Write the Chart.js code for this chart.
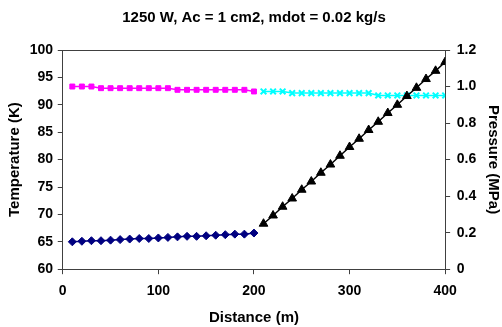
<!DOCTYPE html>
<html>
<head>
<meta charset="utf-8">
<script src="https://cdn.jsdelivr.net/npm/chart.js@4"></script>
<style>
  html, body { margin: 0; padding: 0; background: #fff; }
  #wrap { width: 502px; height: 327px; }
</style>
</head>
<body>
<div id="wrap"><canvas id="myChart" width="502" height="327"></canvas></div>
<script>
// chart data
let chartTitle = '1250 W, Ac = 1 cm2, mdot = 0.02 kg/s';
let distFirst  = [10, 20, 30, 40, 50, 60, 70, 80, 90, 100, 110, 120, 130, 140, 150, 160, 170, 180, 190, 200];
let distSecond = [210, 220, 230, 240, 250, 260, 270, 280, 290, 300, 310, 320, 330, 340, 350, 360, 370, 380, 390, 400];

// temperature (K), left axis
let tempFirst  = [65.0, 65.1, 65.2, 65.2, 65.3, 65.4, 65.5, 65.6, 65.6, 65.7, 65.8, 65.9, 66.0, 66.0, 66.1, 66.2, 66.3, 66.4, 66.4, 66.6];
let tempSecond = [68.3, 69.8, 71.4, 72.9, 74.5, 76.0, 77.6, 79.1, 80.7, 82.3, 83.8, 85.4, 86.9, 88.5, 90.0, 91.6, 93.1, 94.7, 96.2, 97.8];

// pressure (MPa), right axis
let presFirst  = [1.000, 1.000, 1.000, 0.991, 0.991, 0.991, 0.991, 0.991, 0.991, 0.991, 0.991, 0.982, 0.982, 0.982, 0.982, 0.982, 0.982, 0.982, 0.982, 0.973];
let presSecond = [0.973, 0.973, 0.973, 0.964, 0.964, 0.964, 0.964, 0.964, 0.964, 0.964, 0.964, 0.964, 0.951, 0.951, 0.951, 0.951, 0.951, 0.951, 0.951, 0.951];

// axis ticks
let xTicks = [0, 100, 200, 300, 400];
let tempTicks = [60, 65, 70, 75, 80, 85, 90, 95, 100];
let presTicks = [0, 0.2, 0.4, 0.6, 0.8, 1, 1.2];

function pairUp(xs, ys) {
    return xs.map((x, i) => ({ x: x, y: ys[i] }));
}

const axisColor = '#404040';
const tickFont = { family: 'Liberation Sans, Arial, sans-serif', size: 14, weight: 'bold' };
const titleFont = { family: 'Liberation Sans, Arial, sans-serif', size: 15, weight: 'bold' };

// top edge of the plot box
const plotBox = {
    id: 'plotBox',
    afterDraw(chart) {
        let a = chart.chartArea;
        let ctx = chart.ctx;
        ctx.save();
        ctx.strokeStyle = axisColor;
        ctx.lineWidth = 1;
        ctx.beginPath();
        ctx.moveTo(a.left, Math.round(a.top) + 0.5);
        ctx.lineTo(a.right, Math.round(a.top) + 0.5);
        ctx.stroke();
        ctx.restore();
    }
};

let ctx = document.getElementById('myChart').getContext('2d');
let myChart = new Chart(ctx, {
    type: 'line',
    data: {
        datasets: [
        {
            label: 'Temperature 1',
            data: pairUp(distFirst, tempFirst),
            yAxisID: 'yT',
            borderColor: '#000080',
            backgroundColor: '#000080',
            borderWidth: 1.5,
            pointStyle: 'rectRot',
            pointRadius: 4,
            pointBorderWidth: 1
        },
        {
            label: 'Pressure 1',
            data: pairUp(distFirst, presFirst),
            yAxisID: 'yP',
            borderColor: '#FF00FF',
            backgroundColor: '#FF00FF',
            borderWidth: 1.5,
            pointStyle: 'rect',
            pointRadius: 3.5,
            pointBorderWidth: 1
        },
        {
            label: 'Temperature 2',
            data: pairUp(distSecond, tempSecond),
            yAxisID: 'yT',
            borderColor: '#000000',
            backgroundColor: '#000000',
            borderWidth: 1.5,
            pointStyle: 'triangle',
            pointRadius: 5,
            pointBorderWidth: 1
        },
        {
            label: 'Pressure 2',
            data: pairUp(distSecond, presSecond),
            yAxisID: 'yP',
            borderColor: '#00FFFF',
            backgroundColor: '#00FFFF',
            borderWidth: 1.5,
            pointStyle: 'crossRot',
            pointRadius: 4,
            pointBorderWidth: 2
        } ]
    },
    options: {
        responsive: false,
        animation: false,
        layout: { padding: { left: 6, right: 0, top: 0, bottom: 0 } },
        plugins: {
            legend: { display: false },
            tooltip: { enabled: false },
            title: {
                display: true,
                text: chartTitle,
                color: '#000',
                font: titleFont,
                padding: { top: 9, bottom: 23 }
            }
        },
        scales: {
            x: {
                type: 'linear',
                min: 0,
                max: 400,
                afterBuildTicks: axis => { axis.ticks = xTicks.map(v => ({ value: v })); },
                grid: { display: true, drawOnChartArea: false, drawTicks: true, tickLength: 5, color: axisColor },
                border: { display: true, color: axisColor },
                ticks: { color: '#000', font: tickFont, padding: 9, maxRotation: 0 },
                title: { display: true, text: 'Distance (m)', color: '#000', font: titleFont, padding: { top: 0, bottom: 0 } }
            },
            yT: {
                position: 'left',
                min: 60,
                max: 100,
                afterBuildTicks: axis => { axis.ticks = tempTicks.map(v => ({ value: v })); },
                grid: { display: true, drawOnChartArea: false, drawTicks: true, tickLength: 5, color: axisColor },
                border: { display: true, color: axisColor },
                ticks: { color: '#000', font: tickFont, padding: 4.7 },
                title: { display: true, text: 'Temperature (K)', color: '#000', font: titleFont, padding: { top: 0, bottom: 1 } }
            },
            yP: {
                position: 'right',
                min: 0,
                max: 1.2,
                afterBuildTicks: axis => { axis.ticks = presTicks.map(v => ({ value: v })); },
                grid: { display: true, drawOnChartArea: false, drawTicks: true, tickLength: 5, color: axisColor },
                border: { display: true, color: axisColor },
                ticks: { color: '#000', font: tickFont, padding: 6.7 },
                title: { display: true, text: 'Pressure (MPa)', color: '#000', font: titleFont, padding: { top: 0, bottom: 1 } }
            }
        }
    },
    plugins: [plotBox]
});
</script>
</body>
</html>
